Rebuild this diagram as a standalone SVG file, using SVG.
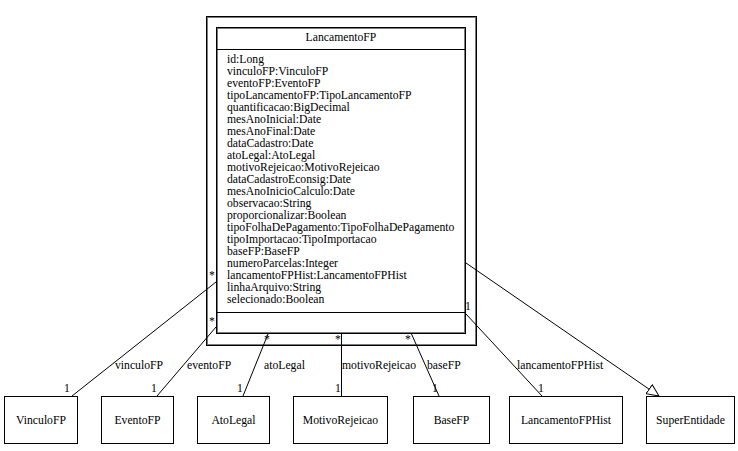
<svg xmlns="http://www.w3.org/2000/svg" width="738" height="451" viewBox="0 0 738 451">
  <style>
    text { font-family: "Liberation Serif", "Times New Roman", serif; font-size: 11.7px; fill: #000; }
    .mid { text-anchor: middle; }
    .box { fill: #fff; stroke: #000; stroke-width: 1; }
    .edge { fill: none; stroke: #000; stroke-width: 1; }
    .inset { fill: none; stroke: #7a7a7a; stroke-width: 1; }
  </style>
  <defs>
    <marker id="generalization" markerUnits="userSpaceOnUse" markerWidth="14" markerHeight="13" refX="12.5" refY="6" orient="auto">
      <path d="M0.5,0.5 L12.5,6 L0.5,11.5 Z" fill="#fff" stroke="#000" stroke-width="1"/>
    </marker>
  </defs>

  <!-- package frame around the main class -->
  <g id="frame">
    <rect x="206.5" y="16.5" width="270" height="329" class="box"/>
    <rect x="207.5" y="17.5" width="268" height="327" class="inset"/>
  </g>

  <!-- main class -->
  <g id="LancamentoFP">
    <rect x="216.5" y="27.5" width="249" height="306" class="box"/>
    <rect x="217.5" y="28.5" width="247" height="304" class="inset"/>
    <line x1="216.5" y1="49.5" x2="465.5" y2="49.5" class="edge"/>
    <line x1="216.5" y1="312.5" x2="465.5" y2="312.5" class="edge"/>
    <text x="341" y="41" class="mid">LancamentoFP</text>
    <text x="227" y="63">id:Long</text>
    <text x="227" y="75">vinculoFP:VinculoFP</text>
    <text x="227" y="87">eventoFP:EventoFP</text>
    <text x="227" y="99">tipoLancamentoFP:TipoLancamentoFP</text>
    <text x="227" y="111">quantificacao:BigDecimal</text>
    <text x="227" y="123">mesAnoInicial:Date</text>
    <text x="227" y="135">mesAnoFinal:Date</text>
    <text x="227" y="147">dataCadastro:Date</text>
    <text x="227" y="159">atoLegal:AtoLegal</text>
    <text x="227" y="171">motivoRejeicao:MotivoRejeicao</text>
    <text x="227" y="183">dataCadastroEconsig:Date</text>
    <text x="227" y="195">mesAnoInicioCalculo:Date</text>
    <text x="227" y="207">observacao:String</text>
    <text x="227" y="219">proporcionalizar:Boolean</text>
    <text x="227" y="231">tipoFolhaDePagamento:TipoFolhaDePagamento</text>
    <text x="227" y="243">tipoImportacao:TipoImportacao</text>
    <text x="227" y="255">baseFP:BaseFP</text>
    <text x="227" y="267">numeroParcelas:Integer</text>
    <text x="227" y="279">lancamentoFPHist:LancamentoFPHist</text>
    <text x="227" y="291">linhaArquivo:String</text>
    <text x="227" y="303">selecionado:Boolean</text>
  </g>

  <!-- associated classes -->
  <g id="VinculoFP">
    <rect x="4.5" y="396.5" width="73" height="47" class="box"/>
    <text x="41" y="424" class="mid">VinculoFP</text>
  </g>
  <g id="EventoFP">
    <rect x="101.5" y="396.5" width="72" height="47" class="box"/>
    <text x="137.5" y="424" class="mid">EventoFP</text>
  </g>
  <g id="AtoLegal">
    <rect x="197.5" y="396.5" width="72" height="47" class="box"/>
    <text x="233.5" y="424" class="mid">AtoLegal</text>
  </g>
  <g id="MotivoRejeicao">
    <rect x="293.5" y="396.5" width="94" height="47" class="box"/>
    <text x="340.5" y="424" class="mid">MotivoRejeicao</text>
  </g>
  <g id="BaseFP">
    <rect x="413.5" y="396.5" width="76" height="47" class="box"/>
    <text x="451.5" y="424" class="mid">BaseFP</text>
  </g>
  <g id="LancamentoFPHist">
    <rect x="509.5" y="396.5" width="113" height="47" class="box"/>
    <text x="566" y="424" class="mid">LancamentoFPHist</text>
  </g>
  <g id="SuperEntidade">
    <rect x="646.5" y="396.5" width="88" height="47" class="box"/>
    <text x="690.5" y="424" class="mid">SuperEntidade</text>
  </g>

  <!-- associations and generalization -->
  <g id="connectors">
    <line x1="216" y1="282" x2="72" y2="396" class="edge"/>
    <text x="115" y="369">vinculoFP</text>
    <text x="209" y="279">*</text>
    <text x="64" y="392">1</text>

    <line x1="216" y1="327" x2="157" y2="396" class="edge"/>
    <text x="187" y="369">eventoFP</text>
    <text x="209" y="325">*</text>
    <text x="151" y="392">1</text>

    <line x1="268" y1="334" x2="243" y2="396" class="edge"/>
    <text x="264" y="369">atoLegal</text>
    <text x="264" y="343">*</text>
    <text x="237" y="392">1</text>

    <line x1="341.5" y1="334" x2="341.5" y2="396" class="edge"/>
    <text x="342" y="369">motivoRejeicao</text>
    <text x="335" y="343">*</text>
    <text x="335" y="392">1</text>

    <line x1="411.5" y1="334" x2="439" y2="396" class="edge"/>
    <text x="427" y="369">baseFP</text>
    <text x="405" y="343">*</text>
    <text x="432" y="392">1</text>

    <line x1="466" y1="314" x2="542" y2="396" class="edge"/>
    <text x="517" y="369">lancamentoFPHist</text>
    <text x="465" y="310">1</text>
    <text x="538" y="392">1</text>

    <line x1="466" y1="263" x2="659" y2="396" class="edge" marker-end="url(#generalization)"/>
  </g>
</svg>
